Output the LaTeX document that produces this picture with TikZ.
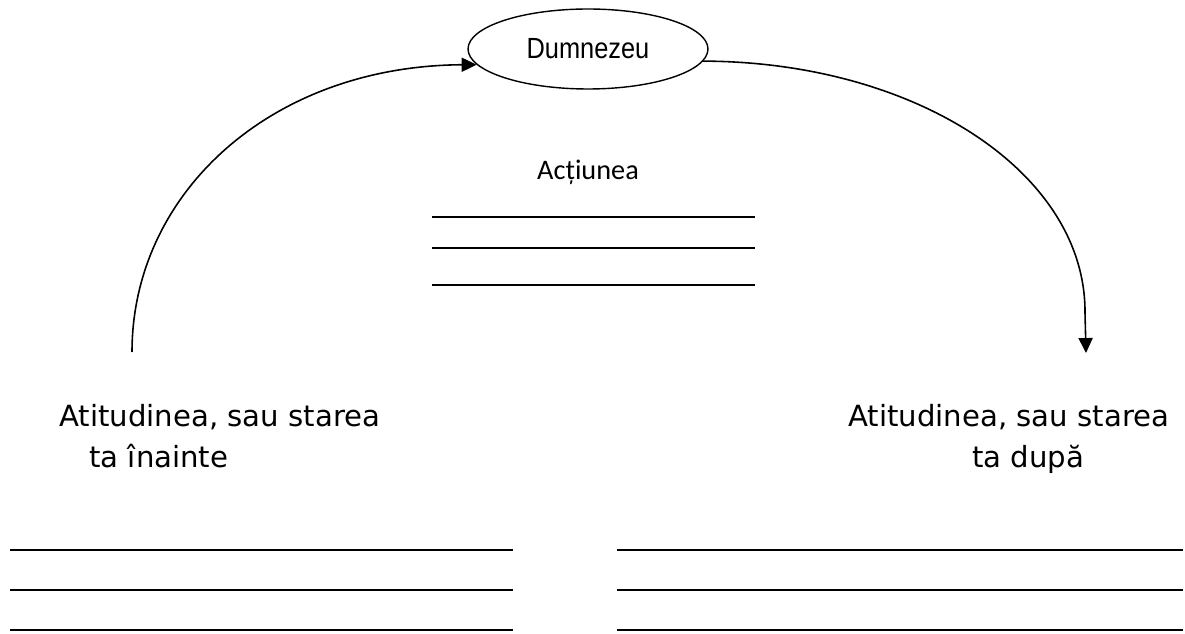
\documentclass[tikz,border=0pt]{standalone}
\usepackage{fontspec}
\setmainfont{DejaVu Sans}
\newfontfamily\calibrifont{Carlito}
\newfontfamily\arialfont[FakeStretch=0.87]{Liberation Sans}
\usetikzlibrary{arrows.meta,shapes.geometric}

\begin{document}
\begin{tikzpicture}[x=0.02cm,y=-0.02cm]
    \tikzset{
        state text/.style={inner sep=0pt,anchor=base west,font=\fontsize{16.6}{20}\selectfont},
        blank line/.style={line width=1.1pt},
        flow/.style={line width=0.9pt,-{Triangle[length=8.5pt,width=8pt]}}}
    \useasboundingbox (0,0) rectangle (1185,634);
    \node (god) [draw,ellipse,line width=0.8pt,minimum width=4.8cm,minimum height=1.6cm,
        font=\arialfont\fontsize{16.6}{20}\selectfont] at (588,49) {Dumnezeu};
    \node (action) [anchor=base,inner sep=0pt,font=\calibrifont\fontsize{16.1}{19}\selectfont] at (588,180) {Acțiunea};
    \foreach \y in {217,248,285}
        \draw [blank line] (432,\y) -- (755,\y);
    % starea inainte / dupa
    \node (before) [state text] at (59,426) {Atitudinea, sau starea};
    \node (before2) [state text] at (89,467) {ta înainte};
    \node (after) [state text] at (848,426) {Atitudinea, sau starea};
    \node (after2) [state text] at (972,467) {ta după};
    \coordinate (start) at (132,352);
    \coordinate (end) at (1086,353);
    \draw [flow] (start) .. controls (132,194) and (270,66) .. (god.188);
    \draw [flow] (god.354) .. controls (918,62) and (1086,174) .. (1085,313) -- (end);
    \foreach \y in {550,590,630}{
        \draw [blank line] (10,\y) -- (513,\y);
        \draw [blank line] (617,\y) -- (1183,\y);
    }
\end{tikzpicture}
\end{document}
